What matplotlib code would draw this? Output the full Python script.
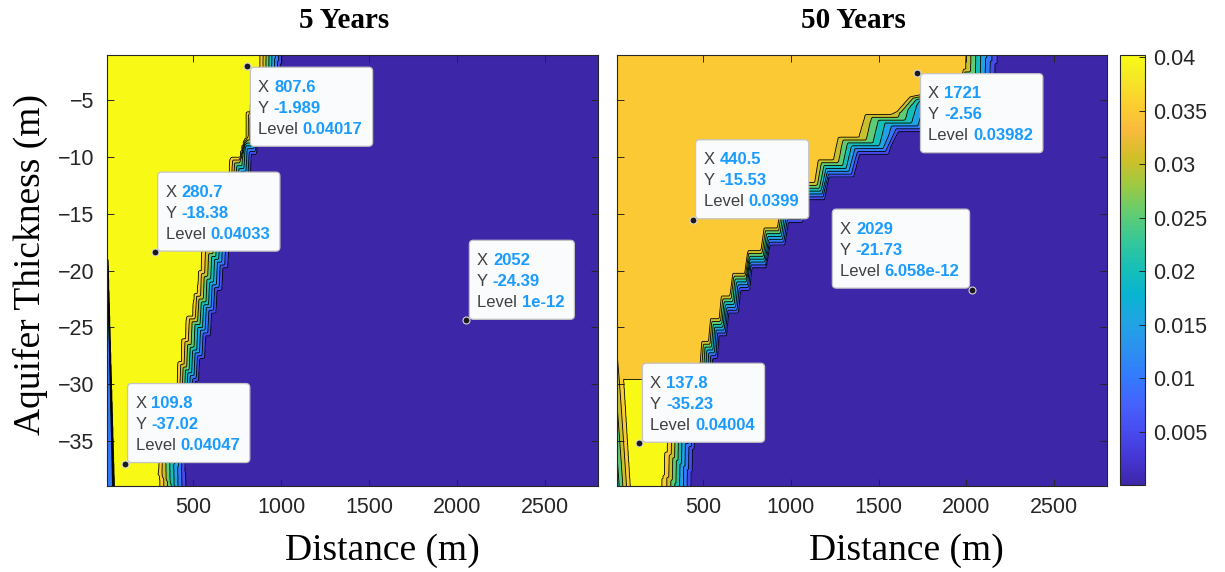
import numpy as np
import matplotlib
matplotlib.use("Agg")
import matplotlib.pyplot as plt
import matplotlib.transforms as mtransforms
from matplotlib.colors import LinearSegmentedColormap, Normalize
from matplotlib.cm import ScalarMappable
from matplotlib.patches import FancyBboxPatch
from matplotlib.font_manager import FontProperties

# ---------------- values ----------------
# edge of the saline plume: "inner" = where full concentration ends,
# "outer" = where background water starts (depth m, distance m)
inner5_depth = [-1, -4.5, -5.5, -9.0, -9.6, -18.4, -22.6, -25.3, -29.4, -37.3, -39]
inner5_x = [880, 870, 805, 800, 737, 555, 510, 453, 408, 300, 310]
outer5_depth = [-1, -4.5, -5.5, -9.1, -18.4, -22.6, -25.3, -29.4, -37.3, -39]
outer5_x = [1020, 1000, 900, 868, 726, 652, 612, 538, 470, 480]

inner50_depth = [-1, -3.0, -5.0, -5.4, -7.4, -9.4, -11.8, -15.6, -18.8, -21.5, -25.3, -27.6, -35.2, -39]
inner50_x = [1970, 1960, 1760, 1521, 1334, 1203, 1090, 896, 749, 635, 521, 465, 300, 271]
outer50_depth = [-1, -3.2, -5.9, -8.2, -8.8, -10.5, -12.6, -14.9, -17.9, -20.2, -23.2, -25.3, -27.0, -35.2, -39]
outer50_x = [2203, 2186, 1959, 1726, 1618, 1431, 1237, 1090, 936, 805, 709, 635, 595, 465, 453]

# fresher strip along the left boundary (depth, flat width, ramp width, value)
edge5_depth = [-19, -39]
edge5_flat = [1, 30]
edge5_ramp = [4, 12]
edge5_value = [0.012, 0.012]
edge50_depth = [-23, -39]
edge50_flat = [0, 0]
edge50_ramp = [10, 75]
edge50_value = [0.0398, 0.022]

# data tips: x, y, level, box side
tips5_x = [807.6, 280.7, 109.8, 2052]
tips5_y = [-1.989, -18.38, -37.02, -24.39]
tips5_level = [0.04017, 0.04033, 0.04047, 1e-12]
tips5_side = ["tr", "br", "br", "br"]
tips50_x = [440.5, 2029, 1721, 137.8]
tips50_y = [-15.53, -21.73, -2.56, -35.23]
tips50_level = [0.0399, 6.058e-12, 0.03982, 0.04004]
tips50_side = ["br", "bl", "tr", "br"]

contour_levels = [0, 0.005, 0.01, 0.015, 0.02, 0.025, 0.03, 0.035, 0.04, 0.05]
cbar_ticks = [0.005, 0.01, 0.015, 0.02, 0.025, 0.03, 0.035, 0.04]
cbar_labels = ["0.005", "0.01", "0.015", "0.02", "0.025", "0.03", "0.035", "0.04"]
x_ticks = [500, 1000, 1500, 2000, 2500]
y_ticks = [-35, -30, -25, -20, -15, -10, -5]
titles = ["5 Years", "50 Years"]

# parula (sampled)
parula_rgb = [
    (0.2422, 0.1504, 0.6603), (0.2706, 0.2147, 0.8364), (0.2813, 0.3006, 0.9414),
    (0.2699, 0.3892, 0.9906), (0.1963, 0.4847, 0.9892), (0.1687, 0.5703, 0.9359),
    (0.1248, 0.6459, 0.8883), (0.0297, 0.7082, 0.8163), (0.0964, 0.7500, 0.7120),
    (0.2161, 0.7843, 0.5923), (0.3909, 0.8029, 0.4354), (0.6174, 0.7876, 0.2612),
    (0.8203, 0.7498, 0.1535), (0.9728, 0.7298, 0.2394), (0.9892, 0.8136, 0.1885),
    (0.9597, 0.9135, 0.1423), (0.9769, 0.9839, 0.0805)]
pos = [0, 4, 8, 12, 16, 20, 24, 28, 32, 36, 40, 44, 48, 52, 56, 60, 63]
parula = LinearSegmentedColormap.from_list("parula", [(p / 63, c) for p, c in zip(pos, parula_rgb)])
norm = Normalize(vmin=0.0, vmax=0.0402)

X0, X1, Y0, Y1 = 10, 2800, -39, -1
LAYER = 2.0      # model layer thickness -> staircase look
SHIFT = 2.0      # steps of inner lines sit higher than outer ones
xg = np.concatenate([np.arange(X0, 120, 2.0), np.arange(120, X1 + 1, 8.0)])
yg = np.arange(Y0, Y1 + 0.01, 0.1)
XX, YY = np.meshgrid(xg, yg)


def build_field(inner_d, inner_x, outer_d, outer_x, tip_y, tip_l, e_d, e_flat, e_ramp, e_val):
    fs = np.linspace(0, 1, 201)[:, None]
    ys = yg[None, :] - fs * SHIFT
    yq = (np.floor(ys / LAYER) + 0.5) * LAYER
    ye = np.clip(ys + 0.8 * (yq - ys) + fs * SHIFT, Y0, Y1)
    xo = np.interp(-ye, -np.asarray(outer_d), outer_x)
    xi = np.interp(-ye, -np.asarray(inner_d), inner_x)
    xf = (1 - fs) * xo + fs * xi                       # line of each fraction
    frac = (XX[None, :, :] < xf[:, :, None]).mean(axis=0)
    # plateau level from the tips that sit inside the plume
    pl = sorted([(y, l) for y, l in zip(tip_y, tip_l) if l > 0.01], reverse=True)
    plateau = np.interp(-YY, [-p[0] for p in pl], [p[1] for p in pl])
    c = plateau * frac
    flat = np.interp(-YY, -np.asarray(e_d), e_flat)
    ramp = np.interp(-YY, -np.asarray(e_d), e_ramp)
    val = np.interp(-YY, -np.asarray(e_d), e_val)
    edge = val + (plateau - val) * np.clip((XX - X0 - flat) / ramp, 0, 1)
    c = np.where(YY < e_d[0], np.minimum(c, edge), c)
    return np.maximum(c, 1e-12)


fields = [
    build_field(inner5_depth, inner5_x, outer5_depth, outer5_x, tips5_y, tips5_level,
                edge5_depth, edge5_flat, edge5_ramp, edge5_value),
    build_field(inner50_depth, inner50_x, outer50_depth, outer50_x, tips50_y, tips50_level,
                edge50_depth, edge50_flat, edge50_ramp, edge50_value),
]
tips = [(tips5_x, tips5_y, tips5_level, tips5_side),
        (tips50_x, tips50_y, tips50_level, tips50_side)]

W, H = 1225, 572
fig = plt.figure(figsize=(W / 100, H / 100), dpi=100)


def px_rect(l, t, r, b):
    return [l / W, 1 - b / H, (r - l) / W, (b - t) / H]


axes = [fig.add_axes(px_rect(107, 55, 598, 486)), fig.add_axes(px_rect(617, 55, 1107, 486))]
cax = fig.add_axes(px_rect(1120, 55, 1145, 485))

INK = "#262626"
tick_font = "Liberation Sans"
serif = "Liberation Serif"
band_colors = [parula(norm(v)) for v in contour_levels[:-1]]

renderer = fig.canvas.get_renderer()
lab_fp = FontProperties(family=tick_font, size=12)
val_fp = FontProperties(family=tick_font, size=12, weight="bold")


def text_w(s, fp):
    return renderer.get_text_width_height_descent(s, fp, ismath=False)[0]


def draw_tip(ax, x, y, level, side):
    rows = [("X ", f"{x:.4g}"), ("Y ", f"{y:.4g}"), ("Level ", f"{level:.4g}")]
    widths = [text_w(a, lab_fp) + text_w(b, val_fp) for a, b in rows]
    bw = max(widths) + 18
    bh = 79
    if side == "br":
        bx, by = 3, 1
    elif side == "tr":
        bx, by = 3, -1 - bh
    else:
        bx, by = -2 - bw, 2
    trans = mtransforms.Affine2D() + mtransforms.ScaledTranslation(x, y, ax.transData)
    box = FancyBboxPatch((bx, by), bw, bh, boxstyle="round,pad=0,rounding_size=4",
                         fc="#fafbfd", ec="#c4c4c4", lw=0.9, transform=trans,
                         clip_on=False, zorder=10)
    ax.add_patch(box)
    for i, (a, b) in enumerate(rows):
        ty = by + bh - (20 + 21 * i)
        ax.text(bx + 8, ty, a, transform=trans, fontproperties=lab_fp, color="#404040",
                va="center", ha="left", zorder=11)
        ax.text(bx + 8 + text_w(a, lab_fp), ty, b, transform=trans, fontproperties=val_fp,
                color="#1a9bff", va="center", ha="left", zorder=11)
    ax.plot([x], [y], "o", ms=5, mfc="#1a1a1a", mec="#d8d8d8", mew=0.8,
            zorder=12, clip_on=False)


for i, ax in enumerate(axes):
    ax.contourf(XX, YY, fields[i], levels=contour_levels, colors=band_colors)
    ax.contour(XX, YY, fields[i], levels=contour_levels[1:-1], colors="k", linewidths=0.6)
    ax.set_xlim(X0, X1)
    ax.set_ylim(Y0, Y1)
    ax.set_xticks(x_ticks)
    ax.set_yticks(y_ticks)
    ax.tick_params(direction="in", top=True, right=True, length=5, width=0.7,
                   color=INK, labelcolor=INK, labelsize=15.5)
    ax.tick_params(axis="x", pad=8)
    ax.tick_params(axis="y", pad=9)
    for lab in ax.get_xticklabels() + ax.get_yticklabels():
        lab.set_fontfamily(tick_font)
    for sp in ax.spines.values():
        sp.set_color(INK)
        sp.set_linewidth(0.8)
    if i == 1:
        ax.set_yticklabels([])
    ax.text(0.483, 1 + 27 / 431, titles[i], transform=ax.transAxes, ha="center",
            va="baseline", family=serif, fontsize=21, fontweight="bold")
    tx, ty, tl, ts = tips[i]
    for x, y, l, s in zip(tx, ty, tl, ts):
        draw_tip(ax, x, y, l, s)

fig.text(382 / W, 1 - 560 / H, "Distance (m)", ha="center", va="baseline",
         family=serif, fontsize=27)
fig.text(906 / W, 1 - 560 / H, "Distance (m)", ha="center", va="baseline",
         family=serif, fontsize=27)
fig.text(30 / W, 1 - 264.5 / H, "Aquifer Thickness (m)", ha="center", va="center",
         rotation=90, family=serif, fontsize=27)

sm = ScalarMappable(norm=norm, cmap=parula)
cb = fig.colorbar(sm, cax=cax, ticks=cbar_ticks)
cb.ax.set_yticklabels(cbar_labels)
cb.ax.tick_params(direction="in", length=4, width=0.7, color=INK, labelcolor=INK,
                  labelsize=15.5, pad=6)
for lab in cb.ax.get_yticklabels():
    lab.set_fontfamily(tick_font)
cb.outline.set_edgecolor(INK)
cb.outline.set_linewidth(0.8)

fig.savefig("out.png", dpi=100)
